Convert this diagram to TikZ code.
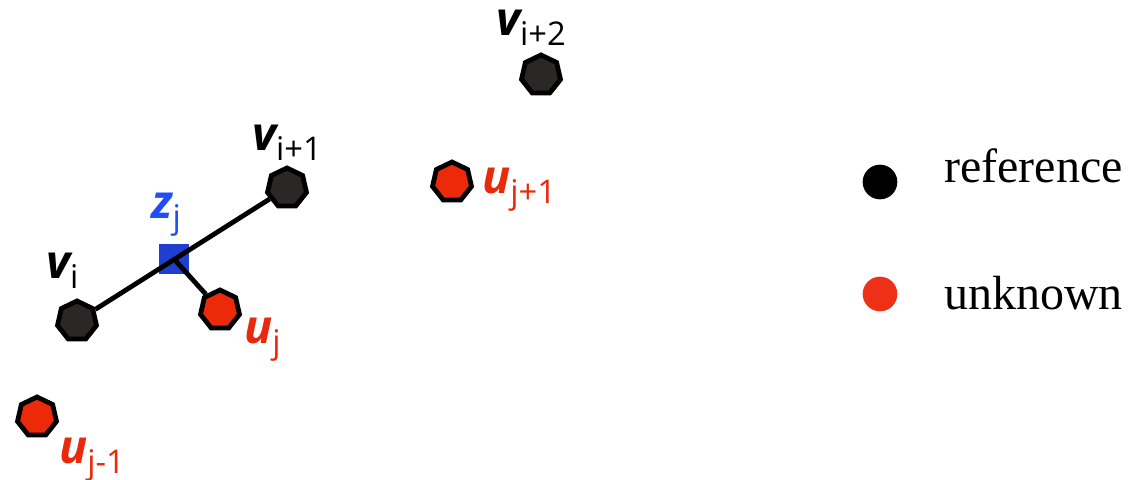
\documentclass[tikz,border=0pt]{standalone}
\usepackage{fontspec}
\setmainfont{Liberation Serif}
\newfontfamily\labfont{Open Sans}
\usetikzlibrary{shapes.geometric}
\definecolor{ptdark}{HTML}{2A2726}
\definecolor{ptred}{HTML}{EC2A0A}
\definecolor{lblred}{HTML}{E8290B}
\definecolor{sqblue}{HTML}{1E3FD0}
\definecolor{lblblue}{HTML}{1F4EF5}
\definecolor{legred}{HTML}{EE3116}
\newcommand\ptlab[2]{{\labfont\fontsize{35}{35}\selectfont\bfseries\itshape #1}\raisebox{-7.5pt}{\labfont\fontsize{24.5}{24.5}\selectfont #2}}
\tikzset{
  pt/.style={regular polygon, regular polygon sides=7, draw=black, line width=3.6pt, minimum size=30pt, inner sep=0pt},
  refpt/.style={pt, fill=ptdark},
  unkpt/.style={pt, fill=ptred},
  foot/.style={rectangle, fill=sqblue, minimum size=22.5pt, inner sep=0pt},
  conn/.style={line width=3.6pt, black},
  lab/.style={anchor=base west, inner sep=0pt},
  legdot/.style={circle, minimum size=26pt, inner sep=0pt},
  legtxt/.style={anchor=base west, inner sep=0pt, font=\fontsize{36}{36}\selectfont}
}
\begin{document}
\begin{tikzpicture}[x=0.75pt, y=-0.75pt]
\useasboundingbox (0,0) rectangle (1129,479);
% foot square
\node[foot] (zj) at (174,259) {};
% points
\node[refpt] (vi) at (77,321) {};
\node[refpt] (vi1) at (287,188) {};
\node[refpt] (vi2) at (541,75) {};
\node[unkpt] (uj) at (220,310) {};
\node[unkpt] (uj1) at (452,182) {};
\node[unkpt] (ujm) at (37,417) {};
% connectors
\draw[conn] (vi) -- (vi1);
\draw[conn] (zj.center) -- (uj);
% labels
\node[lab] (lvi) at (46,278) {\ptlab{v}{i}};
\node[lab] (lvi1) at (252,150) {\ptlab{v}{i+1}};
\node[lab] (lvi2) at (496,35) {\ptlab{v}{i+2}};
\node[lab, text=lblred] (luj) at (244,343) {\ptlab{u}{j}};
\node[lab, text=lblred] (luj1) at (482,193) {\ptlab{u}{j+1}};
\node[lab, text=lblred] (lujm) at (59,463) {\ptlab{u}{j-1}};
\node[lab, text=lblblue] (lzj) at (151,218) {\ptlab{z}{j}};
% legend
\node[legdot, fill=black] (legref) at (880,182) {};
\node[legdot, fill=legred] (legunk) at (880,294) {};
\node[legtxt] (tref) at (944,182) {reference};
\node[legtxt] (tunk) at (944,309) {unknown};
\end{tikzpicture}
\end{document}
